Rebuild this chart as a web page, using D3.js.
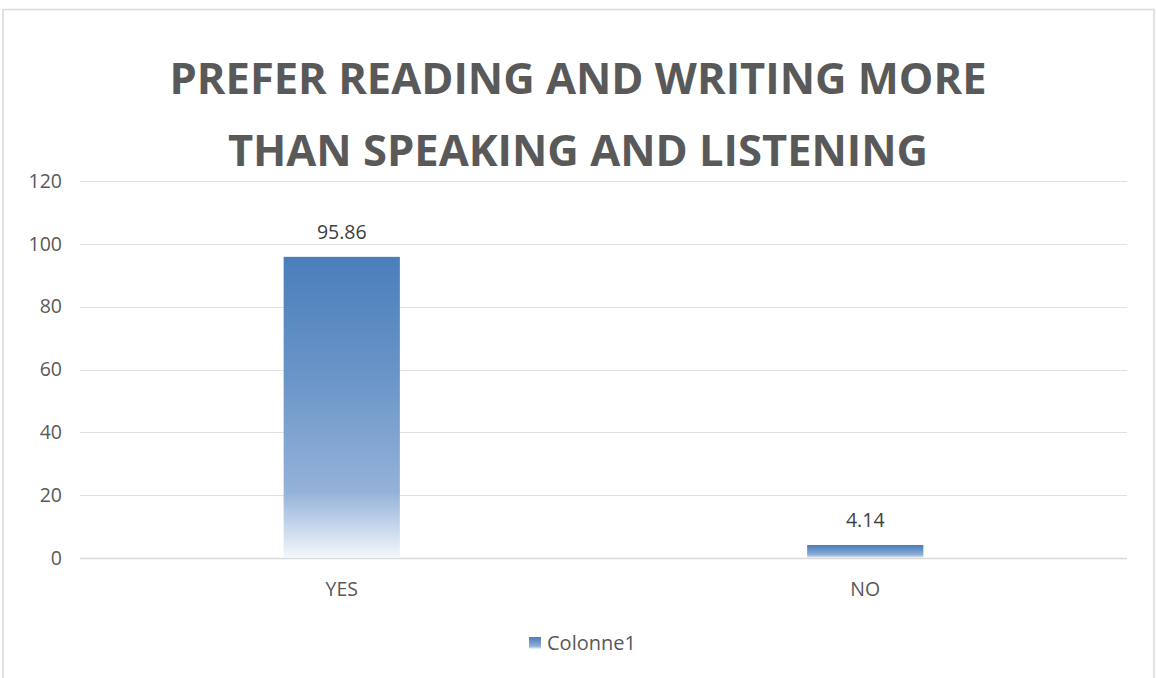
<!DOCTYPE html>
<html>
<head>
<meta charset="utf-8">
<script src="https://cdn.jsdelivr.net/npm/d3@7"></script>
<style>
  html, body { margin: 0; padding: 0; background: #fff; }
  svg { display: block; }
  text { font-family: "Open Sans", "Liberation Sans", sans-serif; }
</style>
</head>
<body>
<svg id="chart" width="1156" height="678"></svg>
<script>
// Chart data
const categories = ["YES", "NO"];
const values = [95.86, 4.14];
const yTicks = [0, 20, 40, 60, 80, 100, 120];
const titleLines = ["PREFER READING AND WRITING MORE", "THAN SPEAKING AND LISTENING"];
const seriesName = "Colonne1";

const svg = d3.select("#chart");
const W = 1156, H = 678;

// Chart frame (bottom edge runs off the canvas)
svg.append("path")
  .attr("d", `M3,${H} L3,9.5 L1154,9.5 L1154,${H}`)
  .attr("fill", "none")
  .attr("stroke", "#d9d9d9")
  .attr("stroke-width", 1.5);

const plot = { left: 80, right: 1127, top: 181, bottom: 558 };

const x = d3.scaleBand().domain(categories).range([plot.left, plot.right]).padding(0);
const y = d3.scaleLinear().domain([0, 120]).range([plot.bottom, plot.top]);
const barW = x.bandwidth() * 0.222;

// Vertical gradient used for bars and legend key
const defs = svg.append("defs");
const grad = defs.append("linearGradient")
  .attr("id", "barGrad")
  .attr("x1", 0).attr("y1", 0).attr("x2", 0).attr("y2", 1);
grad.append("stop").attr("offset", "0%").attr("stop-color", "#4a7ebb");
grad.append("stop").attr("offset", "40%").attr("stop-color", "#6a95c8");
grad.append("stop").attr("offset", "78%").attr("stop-color", "#94b2d9");
grad.append("stop").attr("offset", "100%").attr("stop-color", "#f4f7fb");

// Gridlines
svg.append("g").selectAll("line")
  .data(yTicks)
  .join("line")
  .attr("x1", plot.left).attr("x2", plot.right)
  .attr("y1", d => Math.round(y(d)) + 0.5).attr("y2", d => Math.round(y(d)) + 0.5)
  .attr("stroke", d => d === 0 ? "#d9d9d9" : "#e0e0e0")
  .attr("stroke-width", d => d === 0 ? 1.5 : 1.2);

const labelSize = 19.5;

// Y axis labels
const yAxis = d3.axisLeft(y).tickValues(yTicks).tickSize(0).tickPadding(0);
const yg = svg.append("g").attr("transform", `translate(${plot.left - 18},0)`).call(yAxis);
yg.select(".domain").remove();
yg.selectAll("text")
  .attr("fill", "#595959")
  .attr("font-size", labelSize)
  .style("font-family", "'Open Sans', sans-serif");

// X axis labels
const xAxis = d3.axisBottom(x).tickSize(0).tickPadding(0);
const xg = svg.append("g").attr("transform", `translate(0,${plot.bottom + 24})`).call(xAxis);
xg.select(".domain").remove();
xg.selectAll("text")
  .attr("fill", "#595959")
  .attr("font-size", labelSize)
  .style("font-family", "'Open Sans', sans-serif");

// Bars
svg.append("g").selectAll("rect")
  .data(values)
  .join("rect")
  .attr("x", (d, i) => x(categories[i]) + x.bandwidth() / 2 - barW / 2)
  .attr("width", barW)
  .attr("y", d => y(d))
  .attr("height", d => y(0) - y(d))
  .attr("fill", "url(#barGrad)");

// Value labels
svg.append("g").selectAll("text")
  .data(values)
  .join("text")
  .attr("x", (d, i) => x(categories[i]) + x.bandwidth() / 2)
  .attr("y", d => y(d) - 18)
  .attr("text-anchor", "middle")
  .attr("fill", "#404040")
  .attr("font-size", labelSize)
  .text(d => d.toFixed(2));

// Title
svg.append("g").selectAll("text")
  .data(titleLines)
  .join("text")
  .attr("x", W / 2)
  .attr("y", (d, i) => 94 + i * 72)
  .attr("text-anchor", "middle")
  .attr("fill", "#595959")
  .attr("font-size", 43.5)
  .attr("font-weight", "bold")
  .text(d => d);

// Legend
const leg = svg.append("g").attr("transform", "translate(529,637)");
leg.append("rect").attr("width", 12).attr("height", 12).attr("fill", "url(#barGrad)");
leg.append("text")
  .attr("x", 18).attr("y", 13)
  .attr("fill", "#595959")
  .attr("font-size", 20)
  .text(seriesName);
</script>
</body>
</html>
